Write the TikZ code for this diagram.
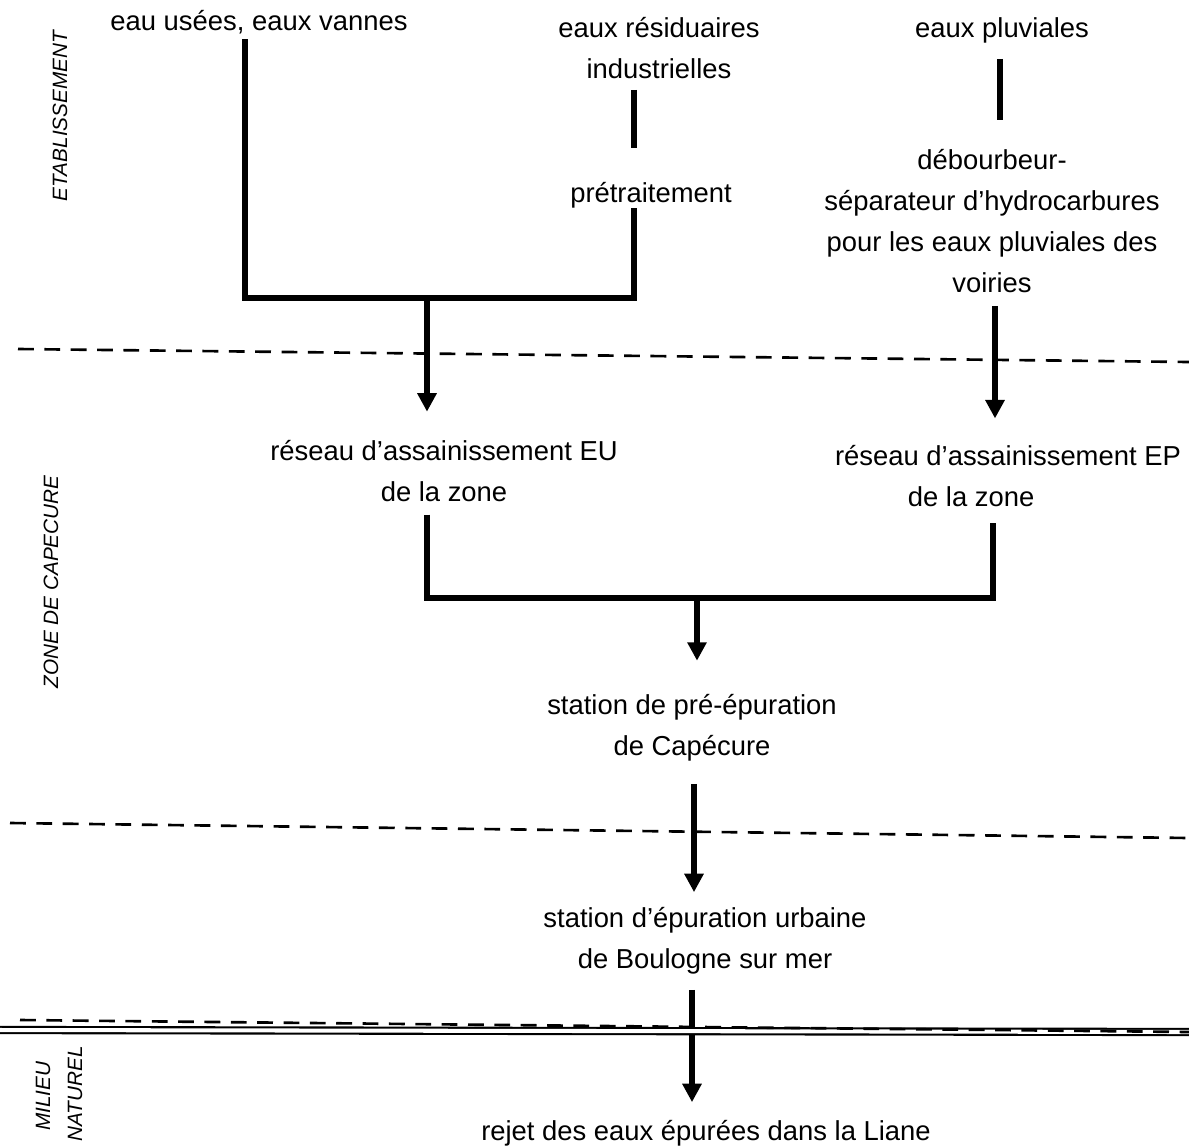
\documentclass[tikz,border=0pt]{standalone}
\usepackage{fontspec}
\setmainfont{Liberation Sans}
\usetikzlibrary{arrows.meta}
\begin{document}
\begin{tikzpicture}[x=0.02cm,y=-0.02cm,
  txt/.style={font=\fontsize{15.6}{23.5}\selectfont, align=center, inner sep=0pt},
  side/.style={font=\fontsize{11.8}{13}\selectfont\itshape, rotate=90, inner sep=0pt},
  conn/.style={line width=2.9pt},
  arr/.style={conn, -{Triangle[width=10.5pt,length=10.5pt]}},
  sepline/.style={line width=1.5pt, dash pattern=on 9pt off 6pt}]
\useasboundingbox (0,0) rectangle (1189,1146);
\clip (0,0) rectangle (1189,1146);

% zone labels
\node[side] (etab) at (60,116) {ETABLISSEMENT};
\node[side] (zone) at (51,582) {ZONE DE CAPECURE};
\node[side] (mil) at (43,1096) {MILIEU};
\node[side, anchor=east] (nat) at (75,1046) {NATUREL};

% texts
\node[txt] (eu) at (259,22) {eau usées, eaux vannes};
\node[txt] (eri) at (659,48) {eaux résiduaires\\industrielles};
\node[txt] (pre) at (651,195) {prétraitement};
\node[txt] (ep) at (1002,30) {eaux pluviales};
\node[txt] (deb) at (992,221) {débourbeur-\\séparateur d’hydrocarbures\\pour les eaux pluviales des\\voiries};
\node[txt] (reu) at (444,471) {réseau d’assainissement EU\\de la zone};
\node[txt] (rep) at (1008,476) {réseau d’assainissement EP\\\hspace*{-42pt}de la zone};
\node[txt] (spe) at (692,728) {station de pré-épuration\\de Capécure};
\node[txt] (seb) at (705,941) {station d’épuration urbaine\\de Boulogne sur mer};
\node[txt] (rej) at (706,1133) {rejet des eaux épurées dans la Liane};

% junction coordinates
\coordinate (j1) at (245,298);
\coordinate (j2) at (634,298);
\coordinate (m1) at (427,298);
\coordinate (xep) at (1000,0);
\coordinate (xrep) at (995,0);
\coordinate (k1) at (427,598);
\coordinate (k2) at (993,598);
\coordinate (m2) at (697,598);
\coordinate (xs) at (694,0);
\coordinate (xb) at (692,0);

% connectors
\draw[conn, shorten <=3pt] (eu.south -| j1) -- (j1) -- (j2) -- (pre.south -| j2);
\draw[conn, shorten <=6pt, shorten >=19pt] (eri.south -| j2) -- (pre.north -| j2);
\draw[arr, shorten >=16pt] (m1) -- (reu.north -| m1);
\draw[conn, shorten <=9pt, shorten >=16.5pt] (ep.south -| xep) -- (deb.north -| xep);
\draw[arr, shorten <=7pt, shorten >=15pt] (deb.south -| xrep) -- (rep.north -| xrep);
\draw[conn, shorten <=7pt] (reu.south -| k1) -- (k1) -- (k2) -- ([yshift=-9pt]rep.south -| k2);
\draw[arr, shorten >=19pt] (m2) -- (spe.north -| m2);
\draw[arr, shorten <=12.5pt, shorten >=8.5pt] (spe.south -| xs) -- (seb.north -| xs);
\draw[arr, shorten <=8.5pt, shorten >=10pt] (seb.south -| xb) -- (rej.north -| xb);

% separators
\draw[sepline] (18,349) -- (1189,362);
\draw[sepline] (10,823) -- (1189,838);
\draw[line width=1.2pt, double distance=2.3pt] (0,1030) -- (1189,1032);
\draw[sepline] (20,1020) -- (1189,1032);
\end{tikzpicture}
\end{document}
